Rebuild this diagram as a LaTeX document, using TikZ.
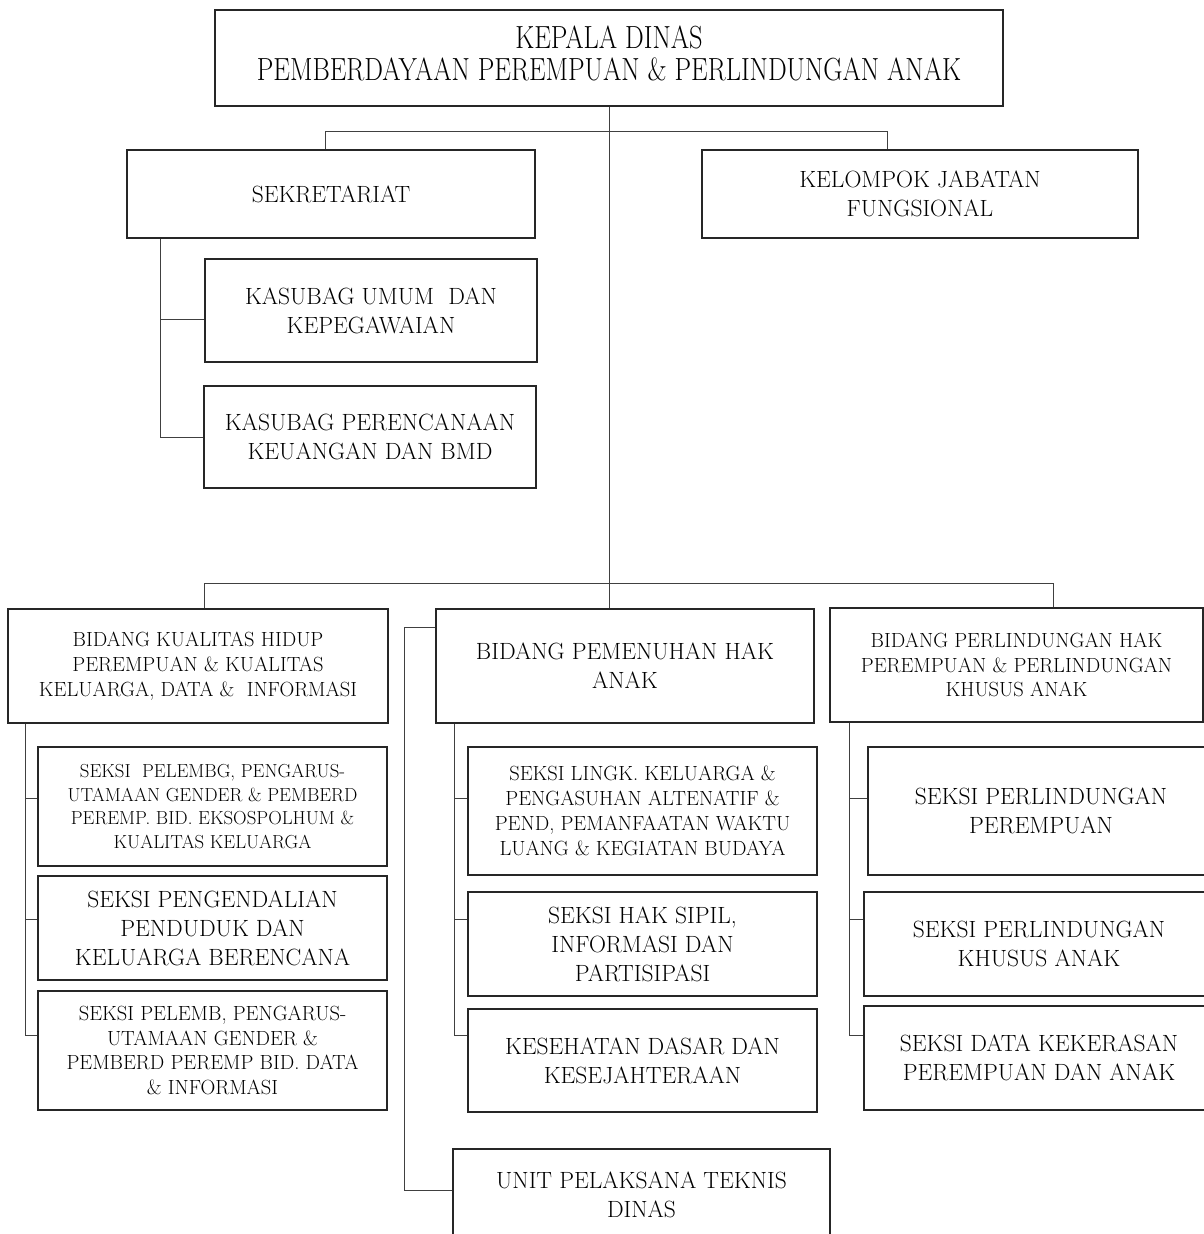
\documentclass[tikz,border=0pt]{standalone}
\usepackage{graphicx}
\usetikzlibrary{calc}
\newcommand{\FntBig}{\fontsize{23.5}{29}\selectfont}
\newcommand{\FntSm}{\fontsize{20.5}{24.8}\selectfont}
\newcommand{\FntXs}{\fontsize{18.85}{23.7}\selectfont}
\newcommand{\FntTitle}{\fontsize{32}{32}\selectfont}
\begin{document}
\begin{tikzpicture}[x=1pt,y=-1pt,
  box/.style={draw=black!85, line width=1.1pt, inner sep=0pt, align=center, rectangle},
  conn/.style={draw=black!75, line width=0.9pt}]
\useasboundingbox (0,0) rectangle (1204,1234);
% top level
\node[box, minimum width=788, minimum height=96, font=\FntTitle] (top) at (609,58)
  {\raisebox{5pt}{\begin{tabular}{@{}c@{}}\scalebox{0.826}[1]{KEPALA DINAS}\\\scalebox{0.826}[1]{PEMBERDAYAAN PEREMPUAN \& PERLINDUNGAN ANAK}\end{tabular}}};
\node[box, minimum width=408, minimum height=88, font=\FntBig] (sek) at (331,194) {SEKRETARIAT};
\node[box, minimum width=436, minimum height=88, font=\FntBig] (kjf) at (920,194) {KELOMPOK JABATAN\\FUNGSIONAL};
\node[box, minimum width=332, minimum height=103, font=\FntBig] (ku) at (371,310.5) {KASUBAG UMUM\ \ DAN\\KEPEGAWAIAN};
\node[box, minimum width=332, minimum height=102, font=\FntBig] (kp) at (370,437) {KASUBAG PERENCANAAN\\KEUANGAN DAN BMD};
% bidang
\node[box, minimum width=380, minimum height=114, font=\FntSm] (bkh) at (198,666) {BIDANG KUALITAS HIDUP\\PEREMPUAN \& KUALITAS\\KELUARGA, DATA \&\ \ INFORMASI};
\node[box, minimum width=378, minimum height=114, font=\FntBig] (pha) at (625,666) {BIDANG PEMENUHAN HAK\\ANAK};
\node[box, minimum width=373, minimum height=114, font=\FntSm] (php) at (1016.5,665) {BIDANG PERLINDUNGAN HAK\\PEREMPUAN \& PERLINDUNGAN\\KHUSUS ANAK};
% left seksi
\node[box, minimum width=349, minimum height=119, font=\FntXs] (s1) at (212.5,806.5) {SEKSI\ \ PELEMBG, PENGARUS-\\UTAMAAN GENDER \& PEMBERD\\PEREMP. BID. EKSOSPOLHUM \&\\KUALITAS KELUARGA};
\node[box, minimum width=349, minimum height=104, font=\FntBig] (s2) at (212.5,928) {SEKSI PENGENDALIAN\\PENDUDUK DAN\\KELUARGA BERENCANA};
\node[box, minimum width=349, minimum height=119, font=\FntSm] (s3) at (212.5,1050.5) {SEKSI PELEMB, PENGARUS-\\UTAMAAN GENDER \&\\PEMBERD PEREMP BID. DATA\\\& INFORMASI};
% middle seksi
\node[box, minimum width=349, minimum height=128, font=\FntSm] (lk) at (642.5,811) {SEKSI LINGK. KELUARGA \&\\PENGASUHAN ALTENATIF \&\\PEND, PEMANFAATAN WAKTU\\LUANG \& KEGIATAN BUDAYA};
\node[box, minimum width=349, minimum height=104, font=\FntBig] (hs) at (642.5,944) {SEKSI HAK SIPIL,\\INFORMASI DAN\\PARTISIPASI};
\node[box, minimum width=349, minimum height=103, font=\FntBig] (kd) at (642.5,1060.5) {KESEHATAN DASAR DAN\\KESEJAHTERAAN};
\node[box, minimum width=377, minimum height=91, font=\FntBig] (upt) at (641.5,1194.5) {UNIT PELAKSANA TEKNIS\\DINAS};
% right seksi
\node[box, minimum width=346, minimum height=128, font=\FntBig] (pp) at (1041,811) {SEKSI PERLINDUNGAN\\PEREMPUAN};
\node[box, minimum width=350, minimum height=104, font=\FntBig] (pka) at (1039,944) {SEKSI PERLINDUNGAN\\KHUSUS ANAK};
\node[box, minimum width=350, minimum height=104, font=\FntBig] (dk) at (1039,1058) {SEKSI DATA KEKERASAN\\PEREMPUAN DAN ANAK};
% connectors
\coordinate (bus1) at (609,131);
\coordinate (bus2) at (609,583);
\draw[conn] (top.south) -- (top.south |- pha.north);
\draw[conn] ([xshift=-6pt]sek.north) |- ([xshift=-33pt]kjf.north |- bus1) -- ([xshift=-33pt]kjf.north);
\draw[conn] ([xshift=6pt]bkh.north) |- ([xshift=36.5pt]php.north |- bus2) -- ([xshift=36.5pt]php.north);
% sekretariat children
\draw[conn] ([xshift=-171pt]sek.south) |- (kp.west);
\draw[conn] ([xshift=-171pt]sek.south |- ku.west) ++(0,8.5) -- ([yshift=-8.5pt]ku.west);
% left bidang children
\draw[conn] ([xshift=-173pt]bkh.south) |- ([yshift=15.5pt]s3.west);
\draw[conn] ([xshift=-173pt]bkh.south |- s1.west) ++(0,-8.2) -- ([yshift=8.2pt]s1.west);
\draw[conn] ([xshift=-173pt]bkh.south |- s2.west) ++(0,-9) -- ([yshift=9pt]s2.west);
% middle children
\draw[conn] ([xshift=-170.7pt]pha.south) |- ([yshift=25.5pt]kd.west);
\draw[conn] ([xshift=-170.7pt]pha.south |- lk.west) ++(0,-12.7) -- ([yshift=12.7pt]lk.west);
\draw[conn] ([xshift=-170.7pt]pha.south |- hs.west) ++(0,-25) -- ([yshift=25pt]hs.west);
% right children
\draw[conn] ([xshift=-167.2pt]php.south) |- ([yshift=23pt]dk.west);
\draw[conn] ([xshift=-167.2pt]php.south |- pp.west) ++(0,-12.7) -- ([yshift=12.7pt]pp.west);
\draw[conn] ([xshift=-167.2pt]php.south |- pka.west) ++(0,-25) -- ([yshift=25pt]pka.west);
% UPT
\draw[conn] ([yshift=-19pt]pha.north west) -- ++(-31,0) |- ([yshift=3.8pt]upt.west);
\end{tikzpicture}
\end{document}
